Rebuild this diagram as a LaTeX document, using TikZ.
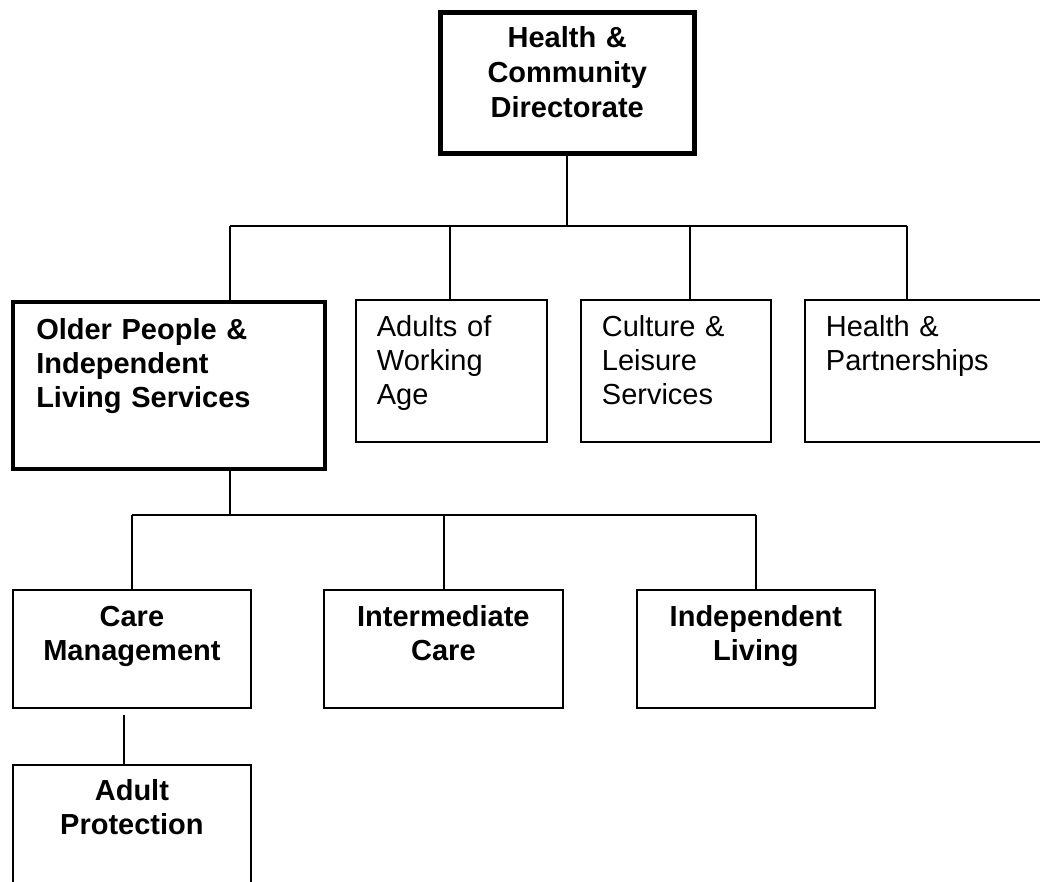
\documentclass[tikz,border=0pt]{standalone}
\usepackage{fontspec}
\setmainfont{Liberation Sans}
\tikzset{
  unit/.style={draw, line width=1.8pt, anchor=north west, inner sep=0pt, text height=37pt, font=\fontsize{29}{34}\selectfont},
  leftunit/.style={unit, inner xsep=21pt, align=left},
  midunit/.style={unit, align=center, font=\fontsize{29}{34}\selectfont\bfseries},
  headunit/.style={midunit, line width=4.5pt}
}
\begin{document}
\begin{tikzpicture}[x=1pt, y=-1pt]
	\useasboundingbox (0,0) rectangle (1040,882);
	% top level
	\node[headunit, font=\fontsize{29}{35}\selectfont\bfseries, text width=254pt, text height=35pt, text depth=106pt] (dir) at (438,10.5) {Health \&\\Community\\Directorate};
	% second row
	\node[headunit, align=left, inner xsep=23.5pt, text width=265pt, text height=37.5pt, text depth=129.5pt] (older) at (10.5,299.5) {Older People \&\\Independent\\Living Services};
	\node[leftunit, text width=149pt, text depth=105pt] (adults) at (355,299) {Adults of\\Working\\Age};
	\node[leftunit, text width=148pt, text depth=105pt] (culture) at (580,299) {Culture \&\\Leisure\\Services};
	\node[leftunit, text width=216pt, text depth=105pt] (health) at (804,299) {Health \&\\Partnerships};
	% third row
	\node[midunit, text width=238pt, text depth=81pt] (care) at (12,589) {Care\\Management};
	\node[midunit, text width=239pt, text depth=81pt] (inter) at (323,589) {Intermediate\\Care};
	\node[midunit, text width=238pt, text depth=81pt] (indep) at (636,589) {Independent\\Living};
	% fourth row
	\node[midunit, text width=238pt, text height=36pt, text depth=104pt] (prot) at (12,764) {Adult\\Protection};
	% connectors
	\coordinate (b1) at (565,226);
	\coordinate (b2) at (227,515);
	\draw[line width=1.8pt] (dir.south) -- (dir.south |- b1);
	\draw[line width=1.8pt] ([xshift=61pt]older.north |- b1) -- ([xshift=-27pt]health.north |- b1);
	\foreach \n/\dx in {older/61, adults/-1.5, culture/14, health/-27}
		\draw[line width=1.8pt] ([xshift=\dx pt]\n.north) -- ([xshift=\dx pt]\n.north |- b1);
	\draw[line width=1.8pt] ([xshift=61pt]older.south) -- ([xshift=61pt]older.south |- b2);
	\draw[line width=1.8pt] (care.north |- b2) -- (indep.north |- b2);
	\foreach \n/\dx in {care/0, inter/0.5, indep/0}
		\draw[line width=1.8pt] ([xshift=\dx pt]\n.north) -- ([xshift=\dx pt]\n.north |- b2);
	\draw[line width=1.8pt, shorten <=6pt] ([xshift=-8pt]care.south) -- ([xshift=-8pt]prot.north);
\end{tikzpicture}
\end{document}
